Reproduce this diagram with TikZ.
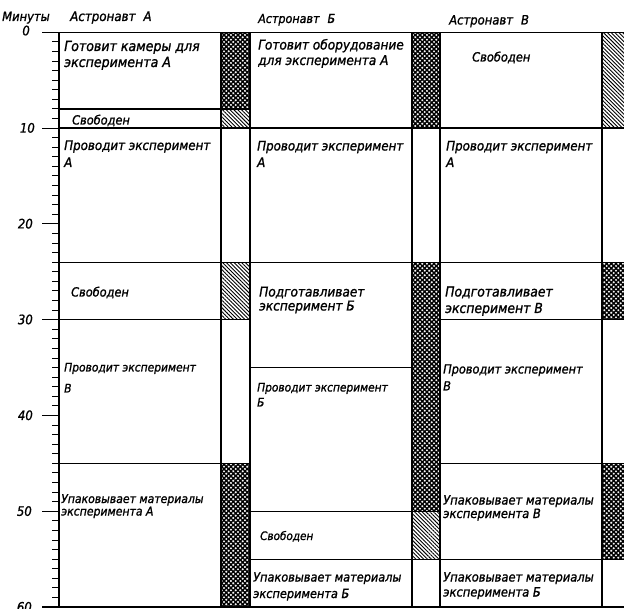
\documentclass[tikz,border=0pt]{standalone}
\usepackage{fontspec}
\setmainfont{DejaVu Sans}
\newfontfamily\dfont[FakeBold=1.2]{DejaVu Sans Condensed}
\usetikzlibrary{patterns.meta}

% minute -> vertical position (pt from the top edge)
\newcommand\my[1]{32.3+9.58*(#1)}

\begin{document}
\begin{tikzpicture}[x=1pt,y=-1pt,
  rule/.style={line width=1.2pt},
  edge/.style={line width=1.5pt},
  tickmark/.style={line width=1pt},
  crossfill/.style={pattern={Lines[angle=45,distance=3.3pt,line width=1.5pt]},
                    postaction={pattern={Lines[angle=-45,distance=3.3pt,line width=1.5pt]}}},
  hatchfill/.style={pattern={Lines[angle=-45,distance=2.7pt,line width=0.9pt]}},
  txt/.style={anchor=base west,inner sep=0pt,font={\dfont\itshape\fontsize{#1}{#1}\selectfont}},
  txt/.default=12,
  num/.style={anchor=base east,inner sep=0pt,font={\dfont\itshape\fontsize{13}{13}\selectfont}}
]
\useasboundingbox (0,0) rectangle (624,609);

% ---- occupancy bars ----
% astronaut A
\path[crossfill] (221,{\my{0}})  rectangle (250,{\my{8}});
\path[hatchfill] (221,{\my{8}})  rectangle (250,{\my{10}});
\path[hatchfill] (221,{\my{24}}) rectangle (250,{\my{30}});
\path[crossfill] (221,{\my{45}}) rectangle (250,{\my{60}});
% astronaut B
\path[crossfill] (412,{\my{0}})  rectangle (440,{\my{10}});
\path[crossfill] (412,{\my{24}}) rectangle (440,{\my{50}});
\path[hatchfill] (412,{\my{50}}) rectangle (440,{\my{55}});
% astronaut C
\path[hatchfill] (602,{\my{0}})  rectangle (624,{\my{10}});
\path[crossfill] (602,{\my{24}}) rectangle (624,{\my{30}});
\path[crossfill] (602,{\my{45}}) rectangle (624,{\my{55}});

% ---- time scale ----
\foreach \k in {1,...,59} \draw[tickmark] (52,{\my{\k}}) -- (59,{\my{\k}});
\foreach \k in {10,20,...,50} \draw[tickmark] (42,{\my{\k}}) -- (59,{\my{\k}});
\node[num] (t0)  at (30,{\my{0}+3})  {0};
\node[num] (t10) at (35,{\my{10}+4.5}) {10};
\node[num] (t20) at (33,{\my{20}+4.5}) {20};
\node[num] (t30) at (33,{\my{30}+4.5}) {30};
\node[num] (t40) at (33,{\my{40}+4.5}) {40};
\node[num] (t50) at (32,{\my{50}+4.5}) {50};
\node[num] (t60) at (32,{\my{60}+4.5}) {60};

% ---- grid ----
\draw[edge] (42,{\my{0}})  -- (624,{\my{0}});
\draw[edge] (42,{\my{60}}) -- (624,{\my{60}});
\foreach \x in {59,221,250,412,440,602}
  \draw[rule] (\x,{\my{0}}) -- (\x,{\my{60}});
\draw[rule] (59,{\my{10}}) -- (624,{\my{10}});
\draw[rule] (59,{\my{24}}) -- (624,{\my{24}});
\draw[rule] (59,{\my{8}})  -- (250,{\my{8}});
\draw[rule] (59,{\my{30}}) -- (250,{\my{30}});
\draw[rule] (440,{\my{30}}) -- (624,{\my{30}});
\draw[rule] (59,{\my{45}}) -- (250,{\my{45}});
\draw[rule] (440,{\my{45}}) -- (624,{\my{45}});
\draw[rule] (250,{\my{35}}) -- (412,{\my{35}});
\draw[rule] (250,{\my{50}}) -- (440,{\my{50}});
\draw[rule] (250,{\my{55}}) -- (624,{\my{55}});

% ---- headings ----
\node[txt=12.8] (hmin) at (2,21)   {Минуты};
\node[txt=13.2] (hA)   at (70,21)  {Астронавт\hspace{8pt}А};
\node[txt=12.4] (hB)   at (258,23) {Астронавт\hspace{8pt}Б};
\node[txt=12.9] (hC)   at (449,24.5) {Астронавт\hspace{8pt}В};

% ---- astronaut A ----
\node[txt=14]   (a1a) at (64,51)    {Готовит камеры для};
\node[txt=14]   (a1b) at (64,67)    {эксперимента А};
\node[txt=12.6] (a2)  at (72,124.5) {Свободен};
\node[txt=13.2] (a3a) at (64,150)   {Проводит эксперимент};
\node[txt=13.2] (a3b) at (64,167)   {А};
\node[txt=12.6] (a4)  at (71,296.5) {Свободен};
\node[txt=11.9] (a5a) at (64,371.5) {Проводит эксперимент};
\node[txt=11.9] (a5b) at (64,392.5) {В};
\node[txt=12.1] (a6a) at (61,503)   {Упаковывает материалы};
\node[txt=12.1] (a6b) at (61,515.5) {эксперимента А};

% ---- astronaut B ----
\node[txt=13.5] (b1a) at (258,49.5) {Готовит оборудование};
\node[txt=13.5] (b1b) at (258,65)   {для эксперимента А};
\node[txt=13.2] (b2a) at (257,150.5) {Проводит эксперимент};
\node[txt=13.2] (b2b) at (257,167)  {А};
\node[txt=13.5] (b3a) at (259,296.5) {Подготавливает};
\node[txt=13.5] (b3b) at (259,310.5) {эксперимент Б};
\node[txt=11.8] (b4a) at (257,391.5) {Проводит эксперимент};
\node[txt=11.8] (b4b) at (257,406.5) {Б};
\node[txt=11.6] (b5)  at (260,540)  {Свободен};
\node[txt=12.6] (b6a) at (253,581.5) {Упаковывает материалы};
\node[txt=12.6] (b6b) at (253,598)  {эксперимента Б};

% ---- astronaut C ----
\node[txt=12.7] (c1)  at (472,61.5) {Свободен};
\node[txt=13.2] (c2a) at (446,150.5) {Проводит эксперимент};
\node[txt=13.2] (c2b) at (446,167)  {А};
\node[txt=13.8] (c3a) at (445,296.5) {Подготавливает};
\node[txt=13.8] (c3b) at (445,313)  {эксперимент В};
\node[txt=12.6] (c4a) at (443,373.5) {Проводит эксперимент};
\node[txt=12.6] (c4b) at (443,390.5) {В};
\node[txt=12.8] (c5a) at (443,504.5) {Упаковывает материалы};
\node[txt=12.8] (c5b) at (443,518)  {эксперимента В};
\node[txt=12.8] (c6a) at (443,581.5) {Упаковывает материалы};
\node[txt=12.8] (c6b) at (443,596.5) {эксперимента Б};
\end{tikzpicture}
\end{document}
